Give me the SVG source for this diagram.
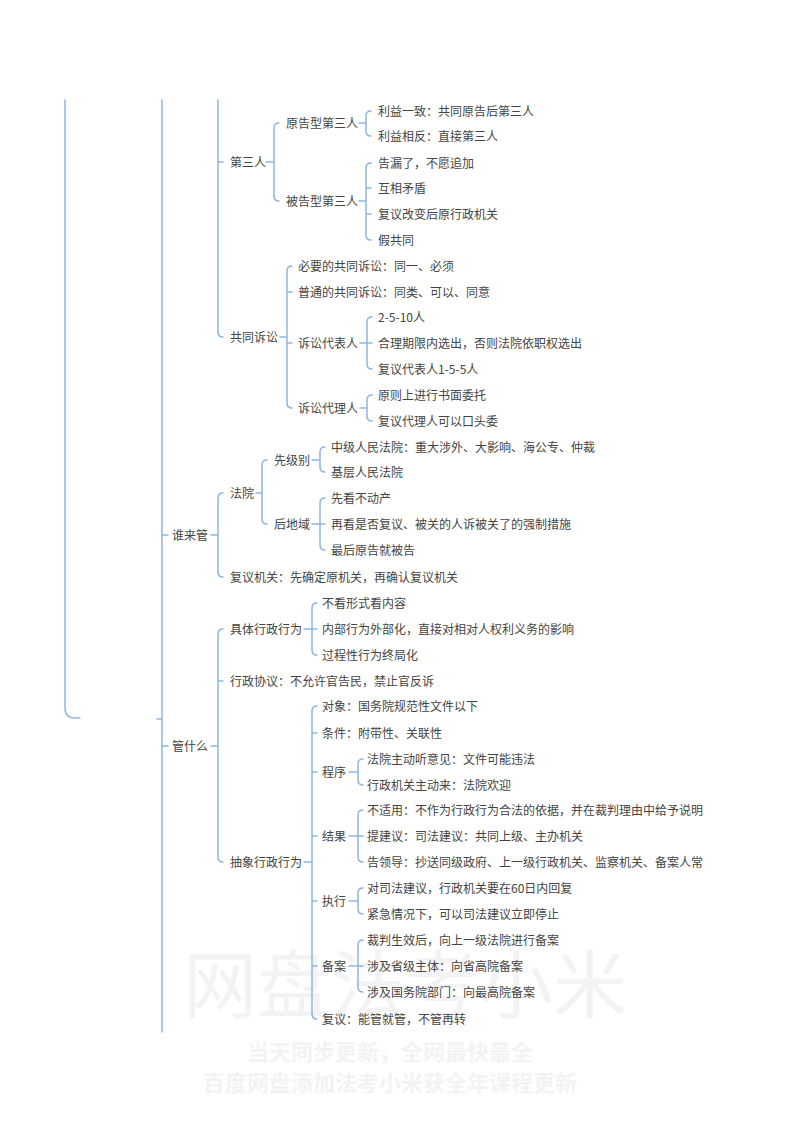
<svg xmlns="http://www.w3.org/2000/svg" width="800" height="1132" viewBox="0 0 800 1132">
<style>
.c{fill:none;stroke:#8db6e3;stroke-width:1.5;stroke-linecap:round}
.t{font-family:"Noto Sans CJK SC","Noto Sans",sans-serif;font-size:12px;fill:#444}
.wm{font-family:"Noto Sans CJK SC",sans-serif;fill:#f3f3f3}
</style>
<rect width="800" height="1132" fill="#fff"/>
<g id="watermark">
<text class="wm" x="405" y="1012" font-size="74" text-anchor="middle">网盘法考小米</text>
<text class="wm" x="390" y="1060" font-size="22" font-weight="bold" text-anchor="middle">当天同步更新，全网最快最全</text>
<text class="wm" x="390" y="1091" font-size="22" font-weight="bold" text-anchor="middle">百度网盘添加法考小米获全年课程更新</text>
</g>
<g id="connectors">
<path class="c" d="M65 100 V708 Q65 718 75 718 H80"/>
<path class="c" d="M162 100 V1032 M157 719 H162"/>
<path class="c" d="M218 100 V332 Q218 337 223 337 M218 162 H223"/>
<path class="c" d="M162 535 H168 M211 535 H218 M223 493 Q218 493 218 498 V572 Q218 577 223 577"/>
<path class="c" d="M162 746 H168 M211 746 H218 M223 629 Q218 629 218 634 V857 Q218 862 223 862 M218 681 H223"/>
<path class="c" d="M266 162 H274 M279 123 Q274 123 274 128 V196 Q274 201 279 201"/>
<path class="c" d="M359 123 H366 M371 111 Q366 111 366 116 V131 Q366 136 371 136"/>
<path class="c" d="M359 201 H366 M371 163 Q366 163 366 168 V235 Q366 240 371 240 M366 188 H371 M366 214 H371"/>
<path class="c" d="M280 337 H287 M292 266 Q287 266 287 271 V403 Q287 408 292 408 M287 292 H292 M287 343 H292"/>
<path class="c" d="M360 343 H367 M372 317 Q367 317 367 322 V364 Q367 369 372 369 M367 343 H372"/>
<path class="c" d="M360 408 H367 M372 395 Q367 395 367 400 V416 Q367 421 372 421"/>
<path class="c" d="M256 493 H262 M267 460 Q262 460 262 465 V519 Q262 524 267 524"/>
<path class="c" d="M312 460 H320 M325 447 Q320 447 320 452 V467 Q320 472 325 472"/>
<path class="c" d="M312 524 H320 M325 498 Q320 498 320 503 V545 Q320 550 325 550 M320 524 H325"/>
<path class="c" d="M304 629 H312 M317 603 Q312 603 312 608 V650 Q312 655 317 655 M312 629 H317"/>
<path class="c" d="M304 862 H312 M317 706 Q312 706 312 711 V1014 Q312 1019 317 1019 M312 733 H317 M312 772 H317 M312 836 H317 M312 901 H317 M312 966 H317"/>
<path class="c" d="M349 772 H358 M363 759 Q358 759 358 764 V780 Q358 785 363 785"/>
<path class="c" d="M349 836 H358 M363 810 Q358 810 358 815 V857 Q358 862 363 862 M358 836 H363"/>
<path class="c" d="M349 901 H358 M363 888 Q358 888 358 893 V909 Q358 914 363 914"/>
<path class="c" d="M349 966 H358 M363 940 Q358 940 358 945 V987 Q358 992 363 992 M358 966 H363"/>
</g>
<g id="n-dsr"><text class="t" x="230" y="166.5">第三人</text></g>
<g id="n-ygx"><text class="t" x="286" y="127.5">原告型第三人</text></g>
<g id="n-ygx1"><text class="t" x="378" y="115.5">利益一致：共同原告后第三人</text></g>
<g id="n-ygx2"><text class="t" x="378" y="140.5">利益相反：直接第三人</text></g>
<g id="n-bgx"><text class="t" x="286" y="205.5">被告型第三人</text></g>
<g id="n-bgx1"><text class="t" x="378" y="167.5">告漏了，不愿追加</text></g>
<g id="n-bgx2"><text class="t" x="378" y="192.5">互相矛盾</text></g>
<g id="n-bgx3"><text class="t" x="378" y="218.5">复议改变后原行政机关</text></g>
<g id="n-bgx4"><text class="t" x="378" y="244.5">假共同</text></g>
<g id="n-gtss"><text class="t" x="230" y="341.5">共同诉讼</text></g>
<g id="n-gt1"><text class="t" x="298" y="270.5">必要的共同诉讼：同一、必须</text></g>
<g id="n-gt2"><text class="t" x="298" y="296.5">普通的共同诉讼：同类、可以、同意</text></g>
<g id="n-dbr"><text class="t" x="298" y="347.5">诉讼代表人</text></g>
<g id="n-dbr1"><text class="t" x="378" y="321.5">2-5-10人</text></g>
<g id="n-dbr2"><text class="t" x="378" y="347.5">合理期限内选出，否则法院依职权选出</text></g>
<g id="n-dbr3"><text class="t" x="378" y="373.5">复议代表人1-5-5人</text></g>
<g id="n-dlr"><text class="t" x="298" y="412.5">诉讼代理人</text></g>
<g id="n-dlr1"><text class="t" x="378" y="399.5">原则上进行书面委托</text></g>
<g id="n-dlr2"><text class="t" x="378" y="425.5">复议代理人可以口头委</text></g>
<g id="n-slg"><text class="t" x="172" y="539.5">谁来管</text></g>
<g id="n-fy"><text class="t" x="230" y="497.5">法院</text></g>
<g id="n-xjb"><text class="t" x="274" y="464.5">先级别</text></g>
<g id="n-xjb1"><text class="t" x="331" y="451.5">中级人民法院：重大涉外、大影响、海公专、仲裁</text></g>
<g id="n-xjb2"><text class="t" x="331" y="476.5">基层人民法院</text></g>
<g id="n-hdy"><text class="t" x="274" y="528.5">后地域</text></g>
<g id="n-hdy1"><text class="t" x="331" y="502.5">先看不动产</text></g>
<g id="n-hdy2"><text class="t" x="331" y="528.5">再看是否复议、被关的人诉被关了的强制措施</text></g>
<g id="n-hdy3"><text class="t" x="331" y="554.5">最后原告就被告</text></g>
<g id="n-fyjg"><text class="t" x="230" y="581.5">复议机关：先确定原机关，再确认复议机关</text></g>
<g id="n-gsm"><text class="t" x="172" y="750.5">管什么</text></g>
<g id="n-jt"><text class="t" x="230" y="633.5">具体行政行为</text></g>
<g id="n-jt1"><text class="t" x="322" y="607.5">不看形式看内容</text></g>
<g id="n-jt2"><text class="t" x="322" y="633.5">内部行为外部化，直接对相对人权利义务的影响</text></g>
<g id="n-jt3"><text class="t" x="322" y="659.5">过程性行为终局化</text></g>
<g id="n-xzxy"><text class="t" x="230" y="685.5">行政协议：不允许官告民，禁止官反诉</text></g>
<g id="n-cx"><text class="t" x="230" y="866.5">抽象行政行为</text></g>
<g id="n-dx"><text class="t" x="322" y="710.5">对象：国务院规范性文件以下</text></g>
<g id="n-tj"><text class="t" x="322" y="737.5">条件：附带性、关联性</text></g>
<g id="n-cxu"><text class="t" x="322" y="776.5">程序</text></g>
<g id="n-cxu1"><text class="t" x="367" y="763.5">法院主动听意见：文件可能违法</text></g>
<g id="n-cxu2"><text class="t" x="367" y="789.5">行政机关主动来：法院欢迎</text></g>
<g id="n-jg"><text class="t" x="322" y="840.5">结果</text></g>
<g id="n-jg1"><text class="t" x="367" y="814.5">不适用：不作为行政行为合法的依据，并在裁判理由中给予说明</text></g>
<g id="n-jg2"><text class="t" x="367" y="840.5">提建议：司法建议：共同上级、主办机关</text></g>
<g id="n-jg3"><text class="t" x="367" y="866.5">告领导：抄送同级政府、上一级行政机关、监察机关、备案人常</text></g>
<g id="n-zx"><text class="t" x="322" y="905.5">执行</text></g>
<g id="n-zx1"><text class="t" x="367" y="892.5">对司法建议，行政机关要在60日内回复</text></g>
<g id="n-zx2"><text class="t" x="367" y="918.5">紧急情况下，可以司法建议立即停止</text></g>
<g id="n-ba"><text class="t" x="322" y="970.5">备案</text></g>
<g id="n-ba1"><text class="t" x="367" y="944.5">裁判生效后，向上一级法院进行备案</text></g>
<g id="n-ba2"><text class="t" x="367" y="970.5">涉及省级主体：向省高院备案</text></g>
<g id="n-ba3"><text class="t" x="367" y="996.5">涉及国务院部门：向最高院备案</text></g>
<g id="n-fyi"><text class="t" x="322" y="1023.5">复议：能管就管，不管再转</text></g>
</svg>
